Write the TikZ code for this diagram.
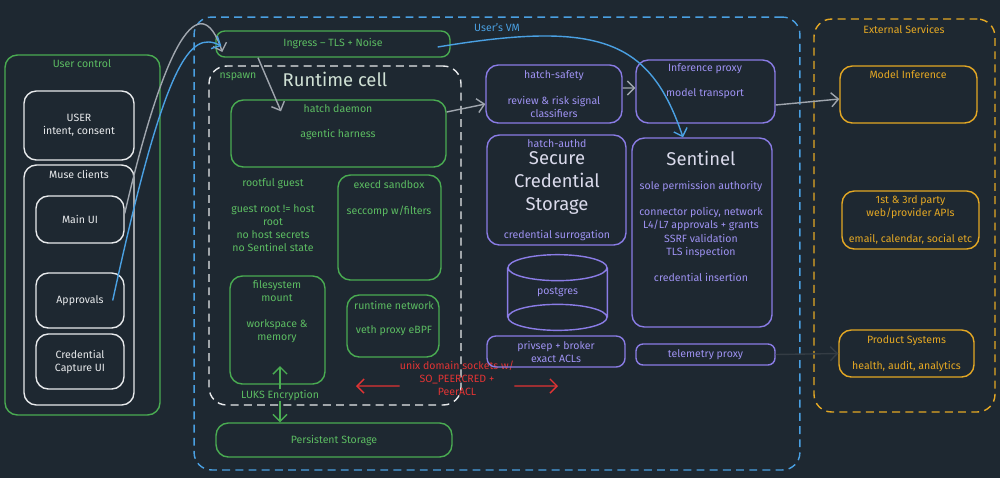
\documentclass[tikz,border=0pt]{standalone}
\usepackage{fontspec}
\setmainfont{Fira Sans}
\usetikzlibrary{arrows.meta, positioning}

\definecolor{bg}{RGB}{30,40,49}
\definecolor{cgreen}{RGB}{74,172,82}
\definecolor{gtext}{RGB}{92,188,98}
\definecolor{cwhite}{RGB}{232,234,236}
\definecolor{cblue}{RGB}{74,160,226}
\definecolor{cpurple}{RGB}{138,124,230}
\definecolor{ptext}{RGB}{158,146,242}
\definecolor{corange}{RGB}{228,168,36}
\definecolor{cred}{RGB}{226,52,52}
\definecolor{cgray}{RGB}{160,166,174}
\definecolor{cdark}{RGB}{52,60,68}

\tikzset{
  box/.style={draw, rounded corners=7pt, line width=0.8pt, inner sep=0pt},
  gbox/.style={box, draw=cgreen},
  wbox/.style={box, draw=cwhite},
  pbox/.style={box, draw=cpurple},
  obox/.style={box, draw=corange},
  frame/.style={box, rounded corners=10pt, dash pattern=on 4.5pt off 3pt},
  txt/.style={font=\fontsize{6}{7.4}\selectfont, align=center, inner sep=0pt},
  big/.style={font=\fontsize{10.5}{13}\selectfont, align=center, inner sep=0pt},
  link/.style={draw=cgray, line width=0.8pt, -{Straight Barb[length=4pt,width=8pt]}},
}

\begin{document}
\begin{tikzpicture}[x=0.02cm, y=-0.02cm]
\fill[bg] (0,0) rectangle (1000,478);
\useasboundingbox (0,0) rectangle (1000,478);

% user control
\node[gbox, minimum width=3.1cm, minimum height=7.2cm] (userctl) at (82.5,235) {};
\node[txt, text=gtext] at (82,64) {User control};
\node[wbox, txt, text=cwhite, minimum width=2.2cm, minimum height=1.38cm] (user) at (79,125.5) {USER\\intent, consent};
\node[wbox, minimum width=2.2cm, minimum height=4.8cm] (muse) at (79,285) {};
\node[txt, text=cwhite] at (79,174) {Muse clients};
\node[wbox, txt, text=cwhite, minimum width=1.76cm, minimum height=0.94cm] (mainui) at (80,219.5) {Main UI};
\node[wbox, txt, text=cwhite, minimum width=1.76cm, minimum height=1.1cm] (approvals) at (80,300.5) {Approvals};
\node[wbox, txt, text=cwhite, minimum width=1.76cm, minimum height=1.1cm] (capture) at (80,361.5) {Credential\\Capture UI};

% user's vm
\node[frame, draw=cblue, minimum width=12.12cm, minimum height=9.06cm] (vm) at (497,243.5) {};
\node[txt, text=cblue] at (497,28) {User's VM};
\node[gbox, txt, text=gtext, rounded corners=5pt, minimum width=4.68cm, minimum height=0.52cm] (ingress) at (333,44) {Ingress -- TLS + Noise};

% runtime cell
\node[frame, draw=cwhite, minimum width=5.04cm, minimum height=6.78cm] (cell) at (335,235.5) {};
\node[txt, text=gtext] at (238,77) {nspawn};
\node[big, text=cwhite!85!cgreen] at (335,79) {Runtime cell};
\node[gbox, minimum width=4.3cm, minimum height=1.34cm] (daemon) at (338.5,133.5) {};
\node[txt, text=gtext] at (338,109) {hatch daemon};
\node[txt, text=gtext] at (338,135) {agentic harness};
\node[txt, text=gtext] at (273,215) {rootful guest\\[7.4pt]guest root != host\\root\\no host secrets\\no Sentinel state};
\node[gbox, minimum width=2.06cm, minimum height=2.1cm] (execd) at (389.5,227.5) {};
\node[txt, text=gtext] at (389,185) {execd sandbox};
\node[txt, text=gtext] at (389,211) {seccomp w/filters};
\node[gbox, minimum width=1.9cm, minimum height=2.16cm] (fs) at (277.5,330) {};
\node[txt, text=gtext] at (277,312) {filesystem\\mount\\[7.4pt]workspace \&\\memory};
\node[gbox, minimum width=1.84cm, minimum height=1.24cm] (net) at (393,326) {};
\node[txt, text=gtext] at (394,305) {runtime network};
\node[txt, text=gtext] at (394,331) {veth proxy eBPF};
\node[txt, text=gtext] (luks) at (280,395) {LUKS Encryption};
\coordinate (fsin) at (280,366);
\node[gbox, txt, text=gtext, minimum width=4.72cm, minimum height=0.68cm] (store) at (334,440) {Persistent Storage};
\node[txt, text=cred] (sock) at (457,378) {unix domain sockets w/\\SO\_PEERCRED +\\PeerACL};
\coordinate (sockl) at (356,386);
\coordinate (sockr) at (558,386);

% hatch services
\node[pbox, txt, text=ptext, minimum width=2.72cm, minimum height=1.16cm] (safety) at (554,94) {hatch-safety\\[7.4pt]review \& risk signal\\classifiers};
\node[pbox, minimum width=2.78cm, minimum height=1.26cm] (inference) at (705.5,91.5) {};
\node[txt, text=ptext] at (705,69) {Inference proxy};
\node[txt, text=ptext] at (705,94) {model transport};
\node[pbox, minimum width=2.78cm, minimum height=2.2cm] (authd) at (556.5,190) {};
\node[txt, text=ptext] at (557,144) {hatch-authd};
\node[big, text=cwhite!85!cpurple] at (557,183) {Secure\\Credential\\Storage};
\node[txt, text=ptext] at (557,236) {credential surrogation};
\node[pbox, minimum width=2.8cm, minimum height=3.78cm] (sentinel) at (702,232.5) {};
\node[big, text=cwhite!85!cpurple] at (701,158) {Sentinel};
\node[txt, text=ptext] at (701,187) {sole permission authority};
\node[txt, text=ptext] at (701,232.5) {connector policy, network\\L4/L7 approvals + grants\\SSRF validation\\TLS inspection};
\node[txt, text=ptext] at (701,277) {credential insertion};
\node[txt, text=ptext, minimum width=1.98cm, minimum height=1.5cm] (pg) at (557.5,292.5) {postgres};
\draw[cpurple, line width=0.8pt] ([yshift=-0.26cm]pg.north) ellipse [x radius=0.99cm, y radius=0.26cm]
  ([yshift=0.26cm]pg.south) ellipse [x radius=0.99cm, y radius=0.26cm]
  ([yshift=-0.26cm]pg.north west) -- ([yshift=0.26cm]pg.south west)
  ([yshift=-0.26cm]pg.north east) -- ([yshift=0.26cm]pg.south east);
\node[pbox, txt, text=ptext, rounded corners=5pt, minimum width=2.76cm, minimum height=0.62cm] (privsep) at (556,351.5) {privsep + broker\\exact ACLs};
\node[pbox, txt, text=ptext, rounded corners=4pt, minimum width=2.78cm, minimum height=0.42cm] (telemetry) at (705.5,354.5) {telemetry proxy};

% external services
\node[frame, draw=corange, minimum width=3.62cm, minimum height=7.86cm] (ext) at (904.5,215.5) {};
\node[txt, text=corange] at (904,29) {External Services};
\node[obox, minimum width=2.74cm, minimum height=1.14cm] (model) at (908.5,94.5) {};
\node[txt, text=corange] at (908,75) {Model Inference};
\node[obox, txt, text=corange, minimum width=2.74cm, minimum height=1.16cm] (apis) at (910.5,220) {1st \& 3rd party\\web/provider APIs\\[7.4pt]email, calendar, social etc};
\node[obox, txt, text=corange, minimum width=2.7cm, minimum height=0.94cm] (product) at (906.5,353.5) {Product Systems\\[7.4pt]health, audit, analytics};

% connectors
\draw[link] ([yshift=0.12cm]mainui.east) .. controls (165,40) and (200,-15) .. ([shift={(0.14cm,-0.16cm)}]ingress.west);
\draw[link, draw=cblue] ([xshift=-0.24cm]approvals.east) .. controls (165,60) and (190,30) .. ([shift={(0.12cm,-0.04cm)}]ingress.west);
\draw[link, draw=cblue] ([xshift=-0.26cm, yshift=-0.06cm]ingress.east) .. controls (600,20) and (650,40) .. ([xshift=-0.38cm]sentinel.north);
\draw[link] ([xshift=-1.5cm]ingress.south) -- ([shift={(-1.15cm,-0.24cm)}]daemon.north);
\draw[link] ([yshift=0.43cm]daemon.east) -- ([yshift=-0.2cm]safety.west);
\draw[link] ([yshift=0.12cm]safety.east) -- ([yshift=0.07cm]inference.west);
\draw[link] ([yshift=-0.27cm]inference.east) -- ([yshift=-0.09cm]model.west);
\draw[link, draw=cdark] (telemetry.east) -- (product.west);
\draw[link, draw=cgreen] (luks.north) -- (fsin);
\draw[link, draw=cgreen] (luks.south) -- (luks.south |- store.north);
\draw[link, draw=cred] ([yshift=-0.16cm]sock.west) -- (sockl);
\draw[link, draw=cred] ([yshift=-0.16cm]sock.east) -- (sockr);
\end{tikzpicture}
\end{document}
